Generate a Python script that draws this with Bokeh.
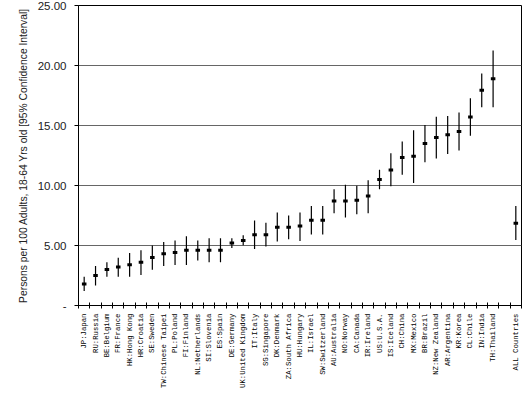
import numpy as np
from bokeh.plotting import figure
from bokeh.models import ColumnDataSource, FixedTicker, Range1d, NumeralTickFormatter
from bokeh.embed import file_html
from bokeh.resources import INLINE

countries = ["JP:Japan", "RU:Russia", "BE:Belgium", "FR:France", "HK:Hong Kong",
             "HR:Croatia", "SE:Sweden", "TW:Chinese Taipei", "PL:Poland", "FI:Finland",
             "NL:Netherlands", "SI:Slovenia", "ES:Spain", "DE:Germany", "UK:United Kingdom",
             "IT:Italy", "SG:Singapore", "DK:Denmark", "ZA:South Africa", "HU:Hungary",
             "IL:Israel", "SW:Switzerland", "AU:Australia", "NO:Norway", "CA:Canada",
             "IR:Ireland", "US:U.S.A.", "IS:Iceland", "CH:China", "MX:Mexico",
             "BR:Brazil", "NZ:New Zealand", "AR:Argentina", "KR:Korea", "CL:Chile",
             "IN:India", "TH:Thailand", "", "ALL Countries"]

means = [1.79, 2.50, 2.99, 3.21, 3.40, 3.60, 4.01, 4.31, 4.42, 4.61,
         4.61, 4.61, 4.61, 5.21, 5.41, 5.90, 5.90, 6.53, 6.53, 6.62,
         7.11, 7.11, 8.70, 8.70, 8.78, 9.12, 10.49, 11.29, 12.33, 12.44,
         13.51, 14.00, 14.22, 14.50, 15.71, 17.93, 18.89, float("nan"), 6.86]

lower = [1.21, 1.67, 2.39, 2.39, 2.39, 2.55, 2.97, 3.30, 3.38, 3.38,
         3.76, 3.60, 3.60, 4.80, 5.02, 4.70, 4.92, 5.33, 5.52, 5.38,
         5.91, 5.91, 7.69, 7.33, 7.61, 7.69, 9.69, 9.94, 10.90, 10.21,
         11.94, 12.25, 12.63, 12.91, 14.14, 16.53, 16.53, float("nan"), 5.46]

upper = [2.39, 3.30, 3.60, 3.98, 4.37, 4.61, 5.00, 5.30, 5.41, 5.77,
         5.41, 5.60, 5.60, 5.60, 5.85, 7.08, 6.89, 7.74, 7.50, 7.74,
         8.29, 8.29, 9.69, 10.07, 9.97, 10.43, 11.31, 12.69, 13.67, 14.61,
         15.05, 15.73, 15.79, 16.09, 17.27, 19.33, 21.25, float("nan"), 8.29]

y_ticks = [0, 5, 10, 15, 20, 25]

n = len(countries)
xs = list(range(n))
src = ColumnDataSource(dict(x=xs, m=means, lo=lower, hi=upper))

p = figure(width=522, height=390, output_backend="svg", toolbar_location=None,
           x_range=Range1d(-0.5, n - 0.5), y_range=Range1d(0, 25),
           min_border_left=78, min_border_right=1, min_border_top=5, min_border_bottom=77)

p.segment(x0="x", y0="lo", x1="x", y1="hi", source=src, line_color="black", line_width=1.2)
p.rect(x="x", y="m", width=0.4, height=3, height_units="screen", source=src,
       fill_color="black", line_color=None)

# x axis
p.xaxis.ticker = FixedTicker(ticks=xs, minor_ticks=[i - 0.5 for i in range(n + 1)])
p.xaxis.major_label_overrides = {i: lab for i, lab in zip(xs, countries)}
p.xaxis.major_tick_in = 0
p.xaxis.major_tick_out = 0
p.xaxis.minor_tick_in = 3
p.xaxis.minor_tick_out = 3
p.xaxis.minor_tick_line_color = "black"
p.xaxis.axis_line_color = "black"
p.xaxis.major_label_orientation = np.pi / 2
p.xaxis.major_label_standoff = 5
p.xaxis.major_label_text_font = "Liberation Mono"
p.xaxis.major_label_text_font_size = "7.3px"
p.xaxis.major_label_text_color = "black"
p.xgrid.visible = False

# y axis
p.yaxis.ticker = FixedTicker(ticks=y_ticks)
p.yaxis.formatter = NumeralTickFormatter(format="0.00")
p.yaxis.major_label_overrides = {0: "-"}
p.yaxis.major_tick_in = 0
p.yaxis.major_tick_out = 4
p.yaxis.minor_tick_line_color = None
p.yaxis.axis_line_color = "black"
p.yaxis.major_tick_line_color = "black"
p.yaxis.major_label_standoff = 8
p.yaxis.major_label_text_font = "Liberation Sans"
p.yaxis.major_label_text_font_size = "11.5px"
p.yaxis.major_label_text_color = "#222222"
p.yaxis.axis_label = "Persons per 100 Adults, 18-64 Yrs old [95% Confidence Interval]"
p.yaxis.axis_label_text_font = "Liberation Sans"
p.yaxis.axis_label_text_font_size = "10.3px"
p.yaxis.axis_label_text_font_style = "normal"
p.yaxis.axis_label_text_color = "#222222"
p.yaxis.axis_label_standoff = 6

p.ygrid.grid_line_color = "#666666"
p.ygrid.grid_line_width = 1
p.outline_line_color = "black"
p.outline_line_alpha = 1.0
p.background_fill_color = "white"
p.border_fill_color = "white"

open("out.html", "w").write(file_html(p, INLINE))
